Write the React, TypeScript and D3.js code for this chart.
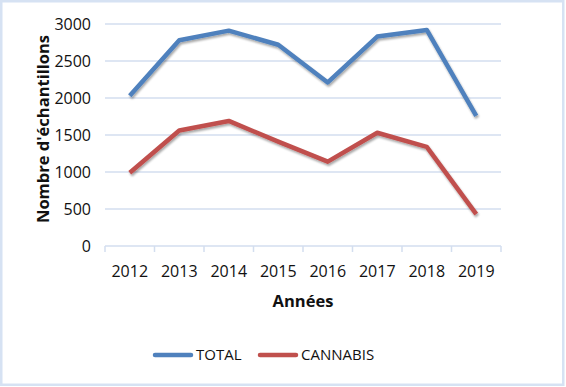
import React from "react";
import * as d3 from "d3";

const years = ["2012", "2013", "2014", "2015", "2016", "2017", "2018", "2019"];
const totalValues = [2030, 2780, 2910, 2720, 2210, 2830, 2920, 1760];
const cannabisValues = [990, 1560, 1690, 1410, 1140, 1530, 1340, 430];
const yTicks = [0, 500, 1000, 1500, 2000, 2500, 3000];
const seriesNames = ["TOTAL", "CANNABIS"];
const seriesColors = ["#4f81bd", "#c0504d"];

const W = 566;
const H = 387;
const FONT = "'Open Sans', 'Liberation Sans', sans-serif";

export default function App() {
  const x = d3.scaleBand<string>().domain(years).range([105, 501]);
  const y = d3.scaleLinear().domain([0, 3000]).range([246, 24]);
  const line = d3
    .line<number>()
    .x((_, i) => (x(years[i]) as number) + x.bandwidth() / 2)
    .y((d) => y(d));
  const series = [totalValues, cannabisValues];
  const grid = "#d3deef";
  const tickPositions = [...years.map((yr) => x(yr) as number), 501];

  return (
    <svg
      width={W}
      height={H}
      style={{ position: "absolute", left: 0, top: 0, background: "#fff" }}
      fontFamily={FONT}
    >
      <defs>
        <filter id="shadow" x="-10%" y="-10%" width="120%" height="130%">
          <feGaussianBlur in="SourceAlpha" stdDeviation="1.2" />
          <feOffset dx="1" dy="2" result="b" />
          <feComponentTransfer>
            <feFuncA type="linear" slope="0.35" />
          </feComponentTransfer>
          <feMerge>
            <feMergeNode />
            <feMergeNode in="SourceGraphic" />
          </feMerge>
        </filter>
      </defs>
      <rect x={1.25} y={1.25} width={562} height={383.5} fill="#fff" stroke="#d6e2f3" strokeWidth={2.5} />
      {yTicks.map((t) => (
        <g key={t}>
          <line x1={105} x2={501} y1={y(t)} y2={y(t)} stroke={grid} strokeWidth={1.5} />
          <text x={91} y={y(t)} dy="0.35em" textAnchor="end" fontSize={16} fill="#111">
            {t}
          </text>
        </g>
      ))}
      {tickPositions.map((p, i) => (
        <line key={i} x1={p} x2={p} y1={246} y2={252} stroke={grid} strokeWidth={1.5} />
      ))}
      {years.map((yr) => (
        <text
          key={yr}
          x={(x(yr) as number) + x.bandwidth() / 2}
          y={271}
          dy="0.35em"
          textAnchor="middle"
          fontSize={16}
          fill="#111"
        >
          {yr}
        </text>
      ))}
      <text x={303} y={301} dy="0.35em" textAnchor="middle" fontSize={16.5} fontWeight="bold" fill="#111">
        Années
      </text>
      <text
        transform="translate(43,129) rotate(-90)"
        dy="0.35em"
        textAnchor="middle"
        fontSize={16.5}
        fontWeight="bold"
        fill="#111"
      >
        Nombre d'échantillons
      </text>
      <g filter="url(#shadow)">
        {series.map((s, i) => (
          <path
            key={i}
            d={line(s) as string}
            fill="none"
            stroke={seriesColors[i]}
            strokeWidth={4.5}
            strokeLinejoin="round"
          />
        ))}
      </g>
      {seriesNames.map((n, i) => {
        const lx = i === 0 ? 153 : 258;
        return (
          <g key={n}>
            <line x1={lx + 2} x2={lx + 38} y1={355} y2={355} stroke={seriesColors[i]} strokeWidth={4.5} strokeLinecap="round" />
            <text x={lx + 43} y={355} dy="0.35em" fontSize={15} fill="#111">
              {n}
            </text>
          </g>
        );
      })}
    </svg>
  );
}
